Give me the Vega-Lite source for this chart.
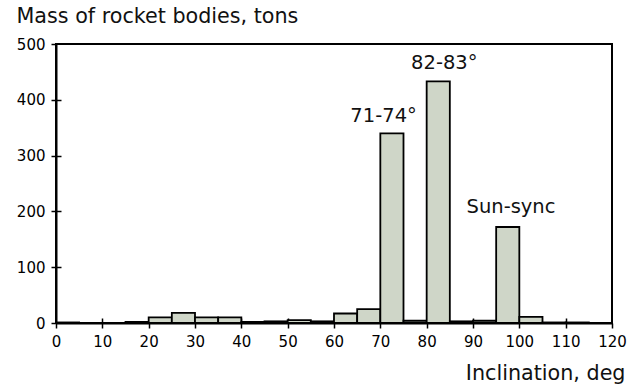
{
  "$schema": "https://vega.github.io/schema/vega-lite/v6.json",
  "autosize": "none",
  "width": 556,
  "height": 279,
  "padding": {"left": 56, "top": 44, "right": 28, "bottom": 64},
  "background": "white",
  "config": {
    "view": {"stroke": "black", "strokeWidth": 2},
    "font": "DejaVu Sans",
    "axis": {
      "domainColor": "black", "domainWidth": 2, "tickColor": "black", "tickWidth": 1.5,
      "labelColor": "black", "labelFontSize": 15, "labelFont": "DejaVu Sans", "labelFlush": false,
      "titleFont": "DejaVu Sans", "titleFontWeight": "normal", "titleColor": "#111111",
      "grid": false
    }
  },
  "datasets": {
    "bins": [
      {"start": 0, "end": 5, "mass": 1},
      {"start": 5, "end": 10, "mass": 0},
      {"start": 10, "end": 15, "mass": 0},
      {"start": 15, "end": 20, "mass": 2},
      {"start": 20, "end": 25, "mass": 10},
      {"start": 25, "end": 30, "mass": 18},
      {"start": 30, "end": 35, "mass": 10},
      {"start": 35, "end": 40, "mass": 10},
      {"start": 40, "end": 45, "mass": 2},
      {"start": 45, "end": 50, "mass": 3},
      {"start": 50, "end": 55, "mass": 5},
      {"start": 55, "end": 60, "mass": 3},
      {"start": 60, "end": 65, "mass": 17},
      {"start": 65, "end": 70, "mass": 25},
      {"start": 70, "end": 75, "mass": 340},
      {"start": 75, "end": 80, "mass": 4},
      {"start": 80, "end": 85, "mass": 433},
      {"start": 85, "end": 90, "mass": 3},
      {"start": 90, "end": 95, "mass": 4},
      {"start": 95, "end": 100, "mass": 172},
      {"start": 100, "end": 105, "mass": 11},
      {"start": 105, "end": 110, "mass": 1},
      {"start": 110, "end": 115, "mass": 1},
      {"start": 115, "end": 120, "mass": 0}
    ],
    "labels": [
      {"x": 70.7, "y": 360.5, "text": "71-74°"},
      {"x": 83.8, "y": 454.5, "text": "82-83°"},
      {"x": 98.2, "y": 196.5, "text": "Sun-sync"}
    ]
  },
  "layer": [
    {
      "data": {"name": "bins"},
      "mark": {"type": "rect", "fill": "#cfd6c8", "stroke": "black", "strokeWidth": 1.8},
      "encoding": {
        "x": {"field": "start", "type": "quantitative", "scale": {"domain": [0, 120], "nice": false},
          "axis": {"values": [0,10,20,30,40,50,60,70,80,90,100,110,120], "tickSize": 5, "labelPadding": 6,
            "title": "Inclination, deg", "titleFontSize": 20.7, "titleAlign": "right", "titleAnchor": null, "titleX": 569, "titleY": 56, "titleBaseline": "alphabetic"}},
        "x2": {"field": "end"},
        "y": {"field": "mass", "type": "quantitative", "scale": {"domain": [0, 500], "nice": false},
          "axis": {"values": [0,100,200,300,400,500], "tickSize": 5, "labelPadding": 6,
            "title": "Mass of rocket bodies, tons", "titleFontSize": 20.7, "titleAngle": 0, "titleAlign": "left", "titleAnchor": null, "titleX": -40, "titleY": -22, "titleBaseline": "alphabetic"}},
        "y2": {"datum": 0}
      }
    },
    {
      "data": {"name": "labels"},
      "mark": {"type": "text", "fontSize": 19.5, "color": "#111111", "font": "DejaVu Sans", "baseline": "alphabetic"},
      "encoding": {
        "x": {"field": "x", "type": "quantitative", "scale": {"domain": [0, 120], "nice": false},
          "axis": {"orient": "bottom", "values": [10,20,30,40,50,60,70,80,90,100,110], "tickSize": -5, "labels": false, "domain": false, "title": null}},
        "y": {"field": "y", "type": "quantitative", "scale": {"domain": [0, 500], "nice": false},
          "axis": {"orient": "left", "values": [100,200,300,400], "tickSize": -5, "labels": false, "domain": false, "title": null}},
        "text": {"field": "text"}
      }
    }
  ],
  "resolve": {"axis": {"x": "independent", "y": "independent"}}
}
